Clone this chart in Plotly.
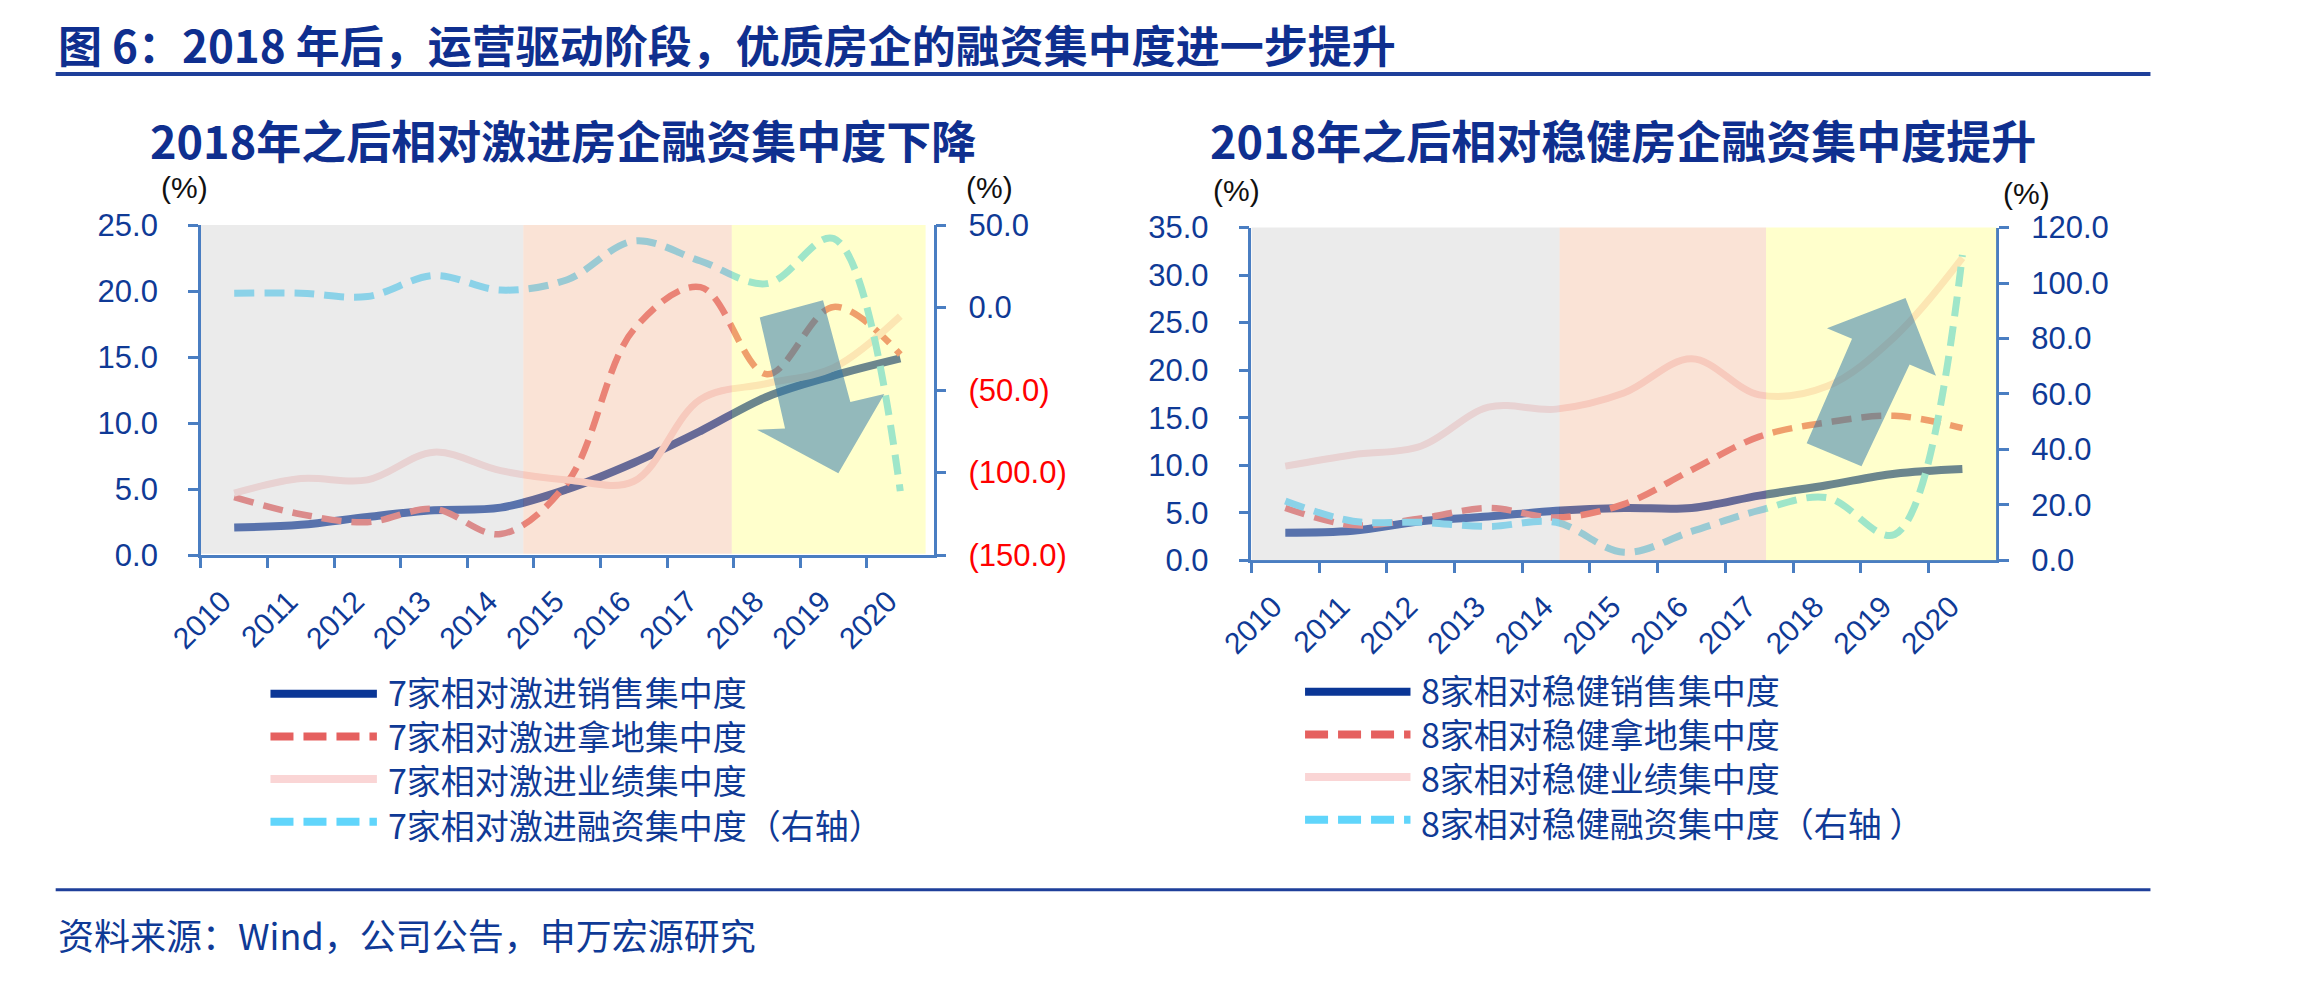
import plotly.graph_objects as go

W, H = 2315, 985

# ---------------- data ----------------
years = [str(y) for y in range(2010, 2021)]

# Left chart: 7 relatively aggressive developers (left axis %, financing on right axis %)
agg_sales = [2.1, 2.3, 2.9, 3.4, 3.6, 5.0, 7.0, 9.4, 12.0, 13.6, 14.9]
agg_land = [4.4, 3.1, 2.5, 3.5, 1.6, 5.5, 17.1, 20.3, 13.7, 18.8, 15.2]
agg_perf = [4.7, 5.8, 5.7, 7.8, 6.4, 5.7, 5.6, 11.8, 13.0, 14.2, 18.1]
agg_fin = [8.7, 8.7, 6.7, 19.4, 10.6, 16.9, 40.3, 28.2, 14.5, 41.8, -111.2]

# Right chart: 8 relatively prudent developers
pru_sales = [2.9, 3.1, 4.1, 4.6, 5.2, 5.5, 5.5, 6.8, 7.9, 9.1, 9.6]
pru_land = [5.5, 3.7, 4.4, 5.5, 4.5, 5.9, 9.5, 13.0, 14.5, 15.2, 13.9]
pru_perf = [9.9, 11.1, 12.0, 16.1, 15.9, 17.6, 21.2, 17.4, 18.3, 23.5, 31.8]
pru_fin = [21.4, 14.1, 13.7, 12.2, 13.7, 2.9, 10.4, 18.0, 22.6, 9.3, 110.1]

left_names = ["7家相对激进销售集中度", "7家相对激进拿地集中度",
              "7家相对激进业绩集中度", "7家相对激进融资集中度（右轴）"]
right_names = ["8家相对稳健销售集中度", "8家相对稳健拿地集中度",
               "8家相对稳健业绩集中度", "8家相对稳健融资集中度（右轴 ）"]

left_y_ticks = [0, 5, 10, 15, 20, 25]
left_y2_ticks = [-150, -100, -50, 0, 50]
right_y_ticks = [0, 5, 10, 15, 20, 25, 30, 35]
right_y2_ticks = [0, 20, 40, 60, 80, 100, 120]

# ---------------- styles ----------------
AX = "#4a7ec2"
TXT = "#0f3a96"
NAVY = "#0a3696"
RED = "#e5605f"
PINK = "#fad5d5"
CYAN = "#60d5fb"
CJK = "Noto Sans CJK SC"
LAT = "Liberation Sans, Arial"

colors = [NAVY, RED, PINK, CYAN]
widths = [8, 6.5, 7, 7]
dashes = ["solid", "20px,10px", "solid", "20px,10px"]


def px(x):
    return x / W


def py(y):
    return 1 - y / H


fig = go.Figure()


def add_series(vals, xa, ya, i):
    fig.add_trace(go.Scatter(
        x=years, y=vals, xaxis=xa, yaxis=ya, mode="lines",
        line=dict(color=colors[i], width=widths[i], dash=dashes[i],
                  shape="spline", smoothing=1.0),
        showlegend=False, hoverinfo="skip"))


for i, s in enumerate([agg_sales, agg_land, agg_perf]):
    add_series(s, "x", "y", i)
add_series(agg_fin, "x", "y2", 3)
for i, s in enumerate([pru_sales, pru_land, pru_perf]):
    add_series(s, "x2", "y3", i)
add_series(pru_fin, "x2", "y4", 3)


def fmt(v):
    return f"{v:.1f}" if v >= 0 else f"<span style='color:#ff0000'>({abs(v):.1f})</span>"


xcommon = dict(type="category", tickson="boundaries", ticks="outside", ticklen=10,
               tickwidth=2.5, tickcolor=AX, showline=True, linecolor=AX, linewidth=2.5,
               showgrid=False, zeroline=False, tickangle=-45, range=[-0.5, 10.5],
               tickfont=dict(family=LAT, size=30, color=TXT), ticklabelstandoff=14,
               ticklabelshift=-12, fixedrange=True)
ycommon = dict(ticks="outside", ticklen=10, tickwidth=2.5, tickcolor=AX, showline=True,
               linecolor=AX, linewidth=2.5, showgrid=False, zeroline=False,
               tickfont=dict(family=LAT, size=31, color=TXT), fixedrange=True)

fig.update_layout(
    width=W, height=H, margin=dict(l=0, r=0, t=0, b=0),
    paper_bgcolor="white", plot_bgcolor="white", showlegend=False,
    xaxis=dict(domain=[px(169.4), px(913)], anchor="y", **xcommon),
    yaxis=dict(domain=[py(558), py(215.7)], anchor="x", range=[0, 25],
               tickvals=left_y_ticks, ticktext=[fmt(v) for v in left_y_ticks],
               ticklabelstandoff=24, **ycommon),
    yaxis2=dict(overlaying="y", side="right", anchor="x", range=[-150, 50],
                tickvals=left_y2_ticks, ticktext=[fmt(v) for v in left_y2_ticks],
                ticklabelstandoff=16, **ycommon),
    xaxis2=dict(domain=[px(1235.6), px(1991.5)], anchor="y3", **xcommon),
    yaxis3=dict(domain=[py(563.3), py(218.3)], anchor="x2", range=[0, 35],
                tickvals=right_y_ticks, ticktext=[fmt(v) for v in right_y_ticks],
                ticklabelstandoff=24, **ycommon),
    yaxis4=dict(overlaying="y3", side="right", anchor="x2", range=[0, 120],
                tickvals=right_y2_ticks, ticktext=[fmt(v) for v in right_y2_ticks],
                ticklabelstandoff=16, **ycommon),
)

shapes = []
# phase bands (semi-transparent, drawn over the lines)
GRAY = "rgba(205,205,205,0.4)"
ORNG = "rgba(242,185,152,0.4)"
YELL = "rgba(255,255,127,0.4)"
left_bands = [(-0.5, 4.34, GRAY, 25.3), (4.34, 7.47, ORNG, 25.3), (7.47, 10.38, YELL, 25.4)]
for x0, x1, c, top in left_bands:
    shapes.append(dict(type="rect", xref="x", yref="y", x0=x0, x1=x1, y0=0.1, y1=top,
                       fillcolor=c, line=dict(width=0), layer="above"))
right_bands = [(-0.5, 4.05, GRAY, 35.2), (4.05, 7.1, ORNG, 35.3), (7.1, 10.55, YELL, 35.3)]
for x0, x1, c, top in right_bands:
    shapes.append(dict(type="rect", xref="x2", yref="y3", x0=x0, x1=x1, y0=-0.3, y1=top,
                       fillcolor=c, line=dict(width=0), layer="above"))

# arrows (category index, left-axis value)
ARROW_FILL = "rgba(40,115,170,0.5)"
arrow_down = [(7.89, 18.0), (8.84, 19.3), (9.25, 11.6), (9.76, 12.2), (9.07, 6.2),
              (7.85, 9.5), (8.27, 9.6)]
arrow_up = [(7.70, 12.3), (8.51, 9.9), (9.22, 20.6), (9.61, 19.4), (9.16, 27.6),
            (8.00, 24.4), (8.37, 23.3)]


def poly(pts):
    return "M " + " L ".join(f"{x},{y}" for x, y in pts) + " Z"


shapes.append(dict(type="path", xref="x", yref="y", path=poly(arrow_down),
                   fillcolor=ARROW_FILL, line=dict(width=0), layer="above"))
shapes.append(dict(type="path", xref="x2", yref="y3", path=poly(arrow_up),
                   fillcolor=ARROW_FILL, line=dict(width=0), layer="above"))

# header / footer rules
shapes.append(dict(type="line", xref="paper", yref="paper", x0=px(22), x1=px(2148),
                   y0=py(59), y1=py(59), line=dict(color="#1e3f9a", width=4)))
shapes.append(dict(type="line", xref="paper", yref="paper", x0=px(22), x1=px(2148),
                   y0=py(905), y1=py(905), line=dict(color="#1e3f9a", width=3)))

annotations = []


def text(x, y, s, size, color=TXT, family=CJK, xanchor="left", yanchor="middle"):
    annotations.append(dict(x=px(x), y=py(y), xref="paper", yref="paper", text=s,
                            showarrow=False, xanchor=xanchor, yanchor=yanchor, align="left",
                            font=dict(family=family, size=size, color=color)))


text(22, 28, "<b>图 6：2018 年后，运营驱动阶段，优质房企的融资集中度进一步提升</b>", 44, "#0f2f8f")
text(22, 951, "资料来源：Wind，公司公告，申万宏源研究", 36)
text(537, 127, "<b>2018年之后相对激进房企融资集中度下降</b>", 45, "#0f2f8f", xanchor="center")
text(1613, 127, "<b>2018年之后相对稳健房企融资集中度提升</b>", 45, "#0f2f8f", xanchor="center")
for (x, y) in [(153, 177), (970, 177), (1220, 180), (2022, 183)]:
    text(x, y, "(%)", 30, "#111111", LAT, xanchor="center")

# manual legends: sample lines + one multi-line text block per chart
legend_dash = ["solid", "23px,10px", "solid", "23px,10px"]
for names, lx0, lx1, tx, ys in [
        (left_names, 240, 348, 357, [701.7, 745.9, 790.1, 834.3]),
        (right_names, 1290, 1397, 1406, [699.7, 743.9, 788.1, 832.3])]:
    for i, y in enumerate(ys):
        shapes.append(dict(type="line", xref="paper", yref="paper", x0=px(lx0), x1=px(lx1),
                           y0=py(y), y1=py(y),
                           line=dict(color=colors[i], width=8, dash=legend_dash[i])))
    text(tx, (ys[0] + ys[-1]) / 2, "<br>".join(names), 34)

fig.update_layout(shapes=shapes, annotations=annotations)
fig.write_html("out.html")
